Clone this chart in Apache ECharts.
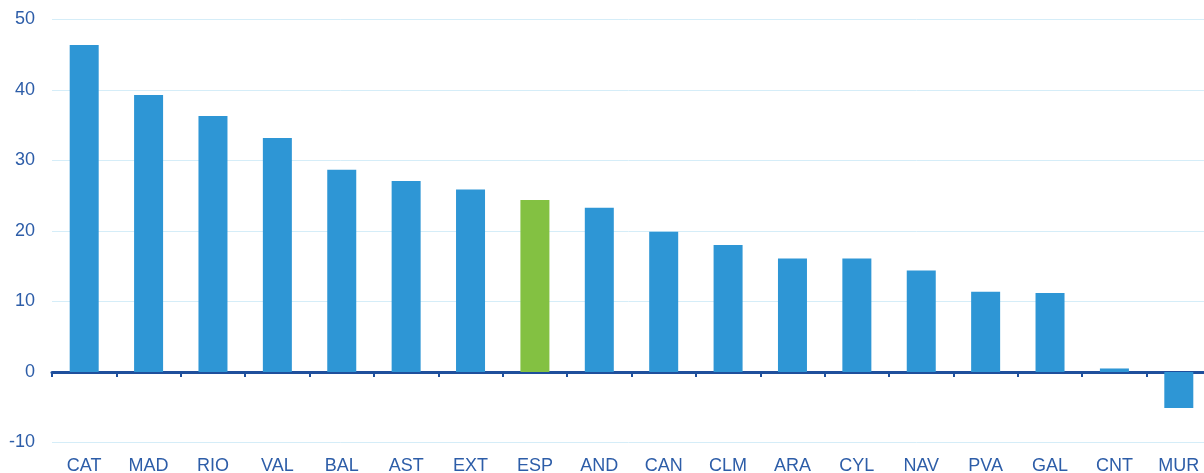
<!DOCTYPE html>
<html>
<head>
<meta charset="utf-8">
<script src="https://cdn.jsdelivr.net/npm/echarts@6/dist/echarts.min.js"></script>
<style>
  html, body { margin: 0; padding: 0; background: #fff; }
  #chart { width: 1204px; height: 473px; }
</style>
</head>
<body>
<div id="chart"></div>
<script>
const categories = ['CAT', 'MAD', 'RIO', 'VAL', 'BAL', 'AST', 'EXT', 'ESP', 'AND', 'CAN', 'CLM', 'ARA', 'CYL', 'NAV', 'PVA', 'GAL', 'CNT', 'MUR'];
const values = [46.4, 39.3, 36.3, 33.2, 28.7, 27.1, 25.9, 24.4, 23.3, 19.9, 18.0, 16.1, 16.1, 14.4, 11.4, 11.2, 0.5, -5.1];
const highlight = 'ESP';

const labelColor = '#2d5da8';
const chart = echarts.init(document.getElementById('chart'));

chart.setOption({
  animation: false,
  grid: { left: 52, top: 19.5, width: 1159, height: 423, outerBoundsMode: 'none', containLabel: false },
  xAxis: [
    {
      type: 'category',
      data: categories,
      axisLine: { onZero: true, lineStyle: { color: '#1f4f9c', width: 3 } },
      axisTick: { show: true, length: 5, lineStyle: { color: '#1f4f9c', width: 2 } },
      axisLabel: { show: false }
    },
    {
      type: 'category',
      data: categories,
      position: 'bottom',
      axisLine: { show: false, onZero: false },
      axisTick: { show: false },
      axisLabel: { color: labelColor, fontSize: 18, fontFamily: 'Liberation Sans', margin: 15 }
    }
  ],
  yAxis: {
    type: 'value',
    min: -10,
    max: 50,
    interval: 10,
    axisLine: { show: false },
    axisTick: { show: false },
    axisLabel: { color: labelColor, fontSize: 18, fontFamily: 'Liberation Sans', margin: 17 },
    splitLine: { lineStyle: { color: '#d5edf8', width: 1 } }
  },
  series: [
    {
      type: 'bar',
      xAxisIndex: 0,
      barWidth: 29,
      data: values.map((v, i) => ({
        value: v,
        itemStyle: { color: categories[i] === highlight ? '#83c142' : '#2e96d5' }
      }))
    }
  ]
});
</script>
</body>
</html>
